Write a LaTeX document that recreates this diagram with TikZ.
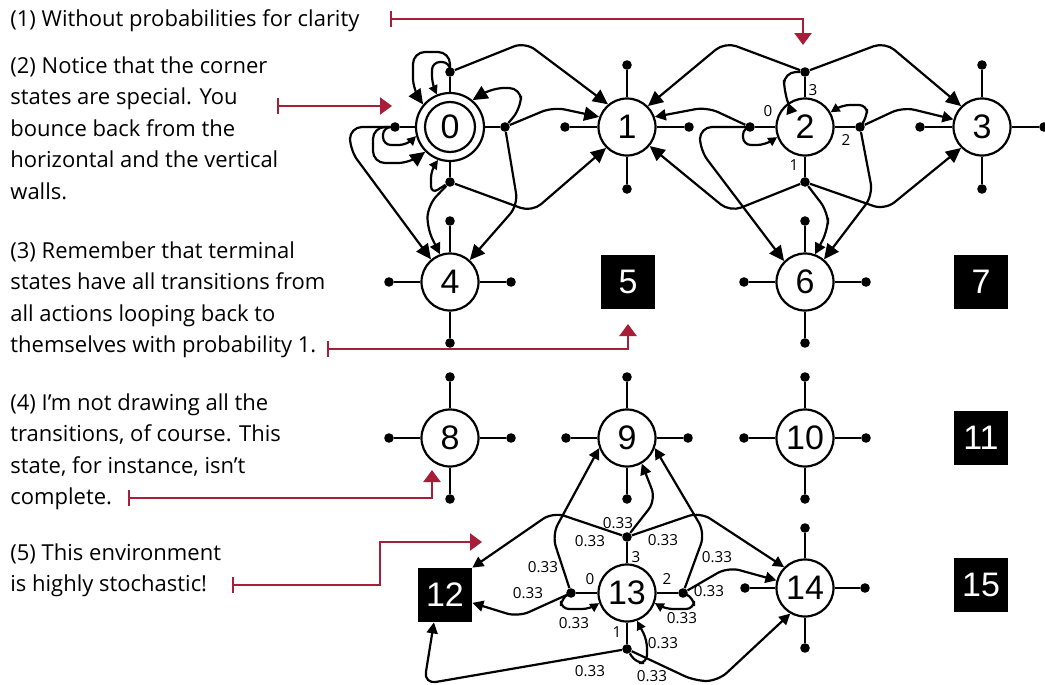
\documentclass[tikz,border=0pt]{standalone}
\usepackage{fontspec}
\usepackage{tikz}
\usetikzlibrary{arrows.meta}
\newfontfamily\numfont{Liberation Sans}
\newfontfamily\labelfont{Open Sans}
\newfontfamily\handfont{Open Sans}
\definecolor{notered}{RGB}{166,30,55}
\tikzset{
  state/.style={circle, draw, line width=1.1pt, fill=white, minimum size=28.5pt, inner sep=0pt, font=\numfont\fontsize{17}{18}\selectfont},
  terminal/.style={rectangle, fill=black, text=white, minimum size=27pt, inner sep=0pt, font=\numfont\fontsize{17}{18}\selectfont},
  actdot/.style={circle, fill=black, inner sep=0pt, minimum size=4.8pt},
  spoke/.style={line width=1.1pt},
  trans/.style={line width=1.1pt, rounded corners=6pt, -{Triangle[length=7.5pt,width=7pt]}},
  midtrans/.style={line width=1.1pt, rounded corners=6pt, -{Triangle[length=5.5pt,width=5.5pt]}},
  selfloop/.style={line width=1.1pt, rounded corners=4pt, -{Triangle[length=4.5pt,width=4.5pt]}},
  prob/.style={font=\labelfont\fontsize{7.6}{8}\selectfont, inner sep=0pt},
  note/.style={anchor=north west, align=left, inner sep=0pt, font=\handfont\fontsize{11}{15.8}\selectfont},
  pointer/.style={draw=notered, line width=1.2pt, {Bar[width=8pt]}-{Triangle[length=6pt,width=8.5pt]}},
}
\begin{document}
\begin{tikzpicture}[x=0.5pt, y=-0.5pt]
\useasboundingbox (0,0) rectangle (1045,685);

\node[state, minimum size=34pt] (s0) at (450,127) {0};
\draw[line width=1.1pt] (s0) circle[radius=12.5pt];
\node[state] (s1) at (627,127) {1};
\node[state] (s2) at (805,127) {2};
\node[state] (s3) at (982,127) {3};
\node[state] (s4) at (450,282) {4};
\node[terminal] (s5) at (628,282) {5};
\node[state] (s6) at (805,282) {6};
\node[terminal] (s7) at (981,282) {7};
\node[state] (s8) at (450,438) {8};
\node[state] (s9) at (627,438) {9};
\node[state] (s10) at (805,438) {10};
\node[terminal] (s11) at (981,438) {11};
\node[terminal] (s12) at (445,595) {12};
\node[state] (s13) at (627,593) {13};
\node[state] (s14) at (805,588) {14};
\node[terminal] (s15) at (981,585) {15};

\foreach \s/\len in {0/55,1/62,2/55,3/62,4/61,6/61,8/61,9/61,10/61,13/56,14/60} {
  \path (s\s) ++(-\len,0) node[actdot] (s\s-l) {};
  \path (s\s) ++(0,\len) node[actdot] (s\s-d) {};
  \path (s\s) ++(\len,0) node[actdot] (s\s-r) {};
  \path (s\s) ++(0,-\len) node[actdot] (s\s-u) {};
  \draw[spoke] (s\s) -- (s\s-l) (s\s) -- (s\s-d) (s\s) -- (s\s-r) (s\s) -- (s\s-u);
}

\draw[trans] (s0-u) -- (450,52) -- (413,52) -- (413,90) -- (s0.140);
\draw[selfloop] (s0-u) -- (450,62) -- (432,62) -- (432,84) -- (s0.112);
\draw[trans] (s0-u) -- (525,42) -- (s1.130);
\draw[trans] (s0-r) -- (521,108) -- (521,88) -- (492,88) -- (s0.50);
\draw[trans] (s0-r) -- (553,107) -- (s1.160);
\draw[trans] (s0-r) -- (518,205) -- (s4.48);
\draw[selfloop] (s0-l) -- (383,127) -- (383,145) -- (407,145) -- (s0.195);
\draw[trans] (s0-l) -- (373,127) -- (373,163) -- (410,163) -- (s0.225);
\draw[trans] (s0-l) -- (350,127) -- (350,150) -- (s4.130);
\draw[selfloop] (s0-d) -- (431,194) -- (431,170) -- (s0.250);
\draw[midtrans] (s0-d) -- (428,205) -- (427,228) -- (s4.110);
\draw[trans] (s0-d) -- (532,212) -- (s1.225);

\draw[midtrans] (s2-u) -- (784,72) -- (784,92) -- (s2.125);
\draw[trans] (s2-u) -- (725,42) -- (s1.45);
\draw[trans] (s2-u) -- (885,42) -- (s3.135);
\draw[midtrans] (s2-l) -- (707,107) -- (s1.20);
\draw[selfloop] (s2-l) -- (743,127) -- (743,145) -- (765,145) -- (s2.200);
\draw[trans] (s2-l) -- (700,127) -- (700,150) -- (s6.135);
\draw[trans] (s2-d) -- (730,212) -- (s1.-40);
\draw[midtrans] (s2-d) -- (828,212) -- (828,230) -- (s6.70);
\draw[trans] (s2-d) -- (885,210) -- (s3.225);
\draw[selfloop] (s2-r) -- (867,117) -- (867,105) -- (842,105) -- (s2.30);
\draw[midtrans] (s2-r) -- (903,107) -- (s3.165);
\draw[trans] (s2-r) -- (873,195) -- (s6.50);

\node[prob] (a2l) at (768,111) {0};
\node[prob] (a2u) at (813,90) {3};
\node[prob] (a2r) at (846,140) {2};
\node[prob] (a2d) at (794,165) {1};

\draw[midtrans] (s13-u) -- (656,500) -- (s9.-60);
\draw[midtrans] (s13-u) -- (553,512) -- (s12.north east);
\draw[midtrans] (s13-u) -- (700,512) -- (s14.135);
\draw[midtrans] (s13-l) -- (552,535) -- (s9.200);
\draw[midtrans] (s13-l) -- (518,617) -- (s12.-16);
\draw[selfloop] (s13-l) -- (561,598) -- (561,609) -- (590,609) -- (s13.200);
\draw[midtrans] (s13-r) -- (705,533) -- (s9.-20);
\draw[midtrans] (s13-r) -- (728,567) -- (s14.165);
\draw[selfloop] (s13-r) -- (694,598) -- (694,609) -- (665,609) -- (s13.-20);
\draw[selfloop] (s13-d) -- (636,663) -- (647,663) -- (647,640) -- (s13.-70);
\draw[midtrans] (s13-d) -- (424,684) -- (s12.-112);
\draw[midtrans] (s13-d) -- (695,681) -- (718,681) -- (s14.240);

\node[prob] (p13u9) at (618,523) {0.33};
\node[prob] (p13u12) at (590,541) {0.33};
\node[prob] (p13u14) at (663,540) {0.33};
\node[prob] (a13u) at (636,557) {3};
\node[prob] (p13l9) at (543,567) {0.33};
\node[prob] (p13l12) at (528,593) {0.33};
\node[prob] (a13l) at (590,579) {0};
\node[prob] (p13ll) at (574,623) {0.33};
\node[prob] (a13r) at (667,579) {2};
\node[prob] (p13r9) at (717,557) {0.33};
\node[prob] (p13r14) at (709,591) {0.33};
\node[prob] (p13rr) at (682,618) {0.33};
\node[prob] (a13d) at (617,632) {1};
\node[prob] (p13dd) at (663,643) {0.33};
\node[prob] (p13d12) at (590,671) {0.33};
\node[prob] (p13d14) at (652,676) {0.33};

\node[note] (note1) at (10,9) {(1) Without probabilities for clarity};
\node[note] (note2) at (10,56) {(2) Notice that the corner\\states are special. You\\bounce back from the\\horizontal and the vertical\\walls.};
\node[note] (note3) at (10,241) {(3) Remember that terminal\\states have all transitions from\\all actions looping back to\\themselves with probability 1.};
\node[note] (note4) at (10,393) {(4) I’m not drawing all the\\transitions, of course. This\\state, for instance, isn’t\\complete.};
\node[note] (note5) at (10,543) {(5) This environment\\is highly stochastic!};

\coordinate (p1a) at (390,19);
\coordinate (p1b) at (803,45);
\coordinate (p2a) at (277,106);
\coordinate (p2b) at (392,106);
\coordinate (p3a) at (327,349);
\coordinate (p3b) at (628,324);
\coordinate (p4a) at (128,498);
\coordinate (p4b) at (432,470);
\coordinate (p5a) at (232,585);
\coordinate (p5m) at (380,542);
\coordinate (p5b) at (482,542);
\draw[pointer] (p1a) -| (p1b);
\draw[pointer] (p2a) -- (p2b);
\draw[pointer] (p3a) -| (p3b);
\draw[pointer] (p4a) -| (p4b);
\draw[pointer] (p5a) -| (p5m) -- (p5b);
\end{tikzpicture}
\end{document}
